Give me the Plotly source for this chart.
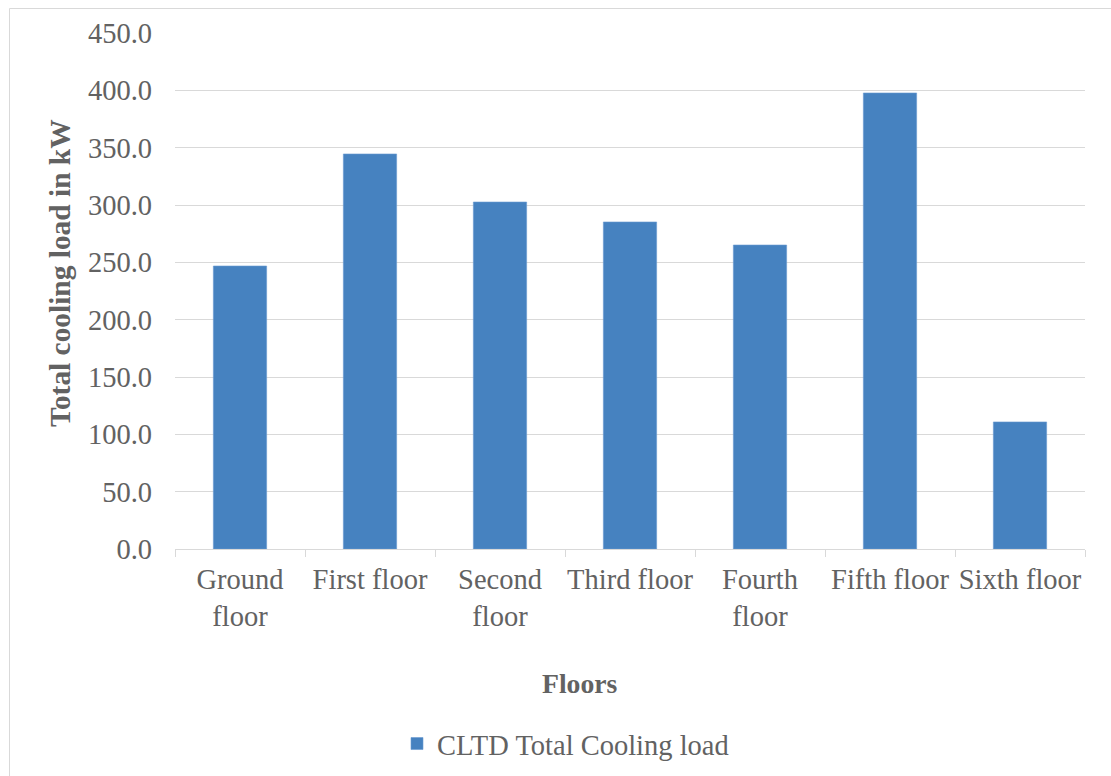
import plotly.graph_objects as go

floors = ["Ground<br>floor", "First floor", "Second<br>floor", "Third floor",
          "Fourth<br>floor", "Fifth floor", "Sixth floor"]
cooling_load_kw = [246.8, 344.5, 302.6, 285.2, 265.1, 397.7, 110.8]
y_ticks = [0, 50, 100, 150, 200, 250, 300, 350, 400, 450]
y_tick_labels = [f"{v:.1f}" for v in y_ticks]
series_name = "CLTD Total Cooling load"

W, H = 1111, 776
L, R, T, B = 175, 1085, 33, 549  # plot area in pixels
px = lambda x: (x - L) / (R - L)
py = lambda y: (B - y) / (B - T)

FONT = "Liberation Serif, Times New Roman, serif"
TEXT = "#626262"
GRID = "#d9d9d9"
BLUE = "#4682c0"

fig = go.Figure(go.Bar(
    x=floors, y=cooling_load_kw, name=series_name,
    marker=dict(color=BLUE, line=dict(color="#6a9bd0", width=0.6)),
    showlegend=True,
))

fig.update_layout(
    width=W, height=H,
    margin=dict(l=L, r=W - R, t=T, b=H - B, autoexpand=False),
    paper_bgcolor="white", plot_bgcolor="white",
    font=dict(family=FONT, size=28.5, color=TEXT),
    bargap=0.59,
    showlegend=True,
    legend=dict(orientation="h", x=px(397), xanchor="left",
                y=py(744), yanchor="middle",
                font=dict(family=FONT, size=28.5, color=TEXT),
                bgcolor="rgba(0,0,0,0)"),
    xaxis=dict(
        type="category", showgrid=False, showline=True, linecolor=GRID,
        linewidth=1, ticks="outside", tickson="boundaries", ticklen=7,
        tickcolor=GRID, tickfont=dict(family=FONT, size=28.5, color=TEXT),
        tickangle=0, ticklabelstandoff=5, automargin=False, fixedrange=True,
    ),
    yaxis=dict(
        range=[0, 450], tickvals=y_ticks, ticktext=y_tick_labels,
        showgrid=True, gridcolor=GRID, gridwidth=1, zeroline=False,
        showline=False, ticks="", ticklabelstandoff=22,
        tickfont=dict(family=FONT, size=28.5, color=TEXT),
        automargin=False, fixedrange=True,
    ),
    annotations=[
        dict(text="<b>Floors</b>", xref="paper", yref="paper",
             x=px(580), y=py(683), showarrow=False,
             xanchor="center", yanchor="middle",
             font=dict(family=FONT, size=27.7, color=TEXT)),
        dict(text="<b>Total cooling load in kW</b>", xref="paper", yref="paper",
             x=px(60), y=py(273), showarrow=False, textangle=-90,
             xanchor="center", yanchor="middle",
             font=dict(family=FONT, size=29.4, color=TEXT)),
    ],
    shapes=[
        dict(type="rect", xref="paper", yref="paper",
             x0=px(9.5), x1=px(1120), y0=py(785), y1=py(8.5),
             line=dict(color=GRID, width=1), fillcolor="rgba(0,0,0,0)",
             layer="below"),
    ],
)

fig.write_html("out.html")
